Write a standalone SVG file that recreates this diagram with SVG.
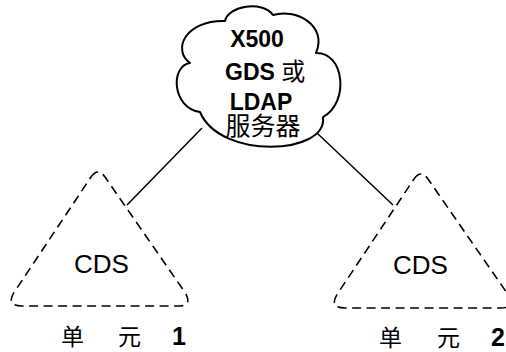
<svg xmlns="http://www.w3.org/2000/svg" width="506" height="352" viewBox="0 0 506 352">
  <defs>
    <style>
      .bg { fill: #ffffff; }
      .cloud { fill: #ffffff; stroke: #000000; stroke-width: 2; stroke-linejoin: round; }
      .cell { fill: none; stroke: #000000; stroke-width: 1.6; stroke-dasharray: 9 5.5; }
      .link { stroke: #000000; stroke-width: 1.5; fill: none; }
      .lat { font-family: "Liberation Sans", Arial, "Noto Sans CJK SC", sans-serif; font-weight: bold; fill: #000000; }
      .cjk { font-family: "Noto Sans CJK SC", "Liberation Sans", sans-serif; font-weight: normal; fill: #000000; }
      .cds { font-family: "Liberation Sans", Arial, sans-serif; font-size: 26px; fill: #000000; text-anchor: middle; }
    </style>
    <!-- rounded, dashed triangle used for both cells -->
    <path id="cellShape" d="M 91,177 Q 98,167 105,177 L 184,291 Q 194,306 178,306 L 22,306 Q 5,306 15,291 Z"/>
  </defs>

  <rect class="bg" x="0" y="0" width="506" height="352"/>

  <!-- connectors between the directory server and the cells -->
  <g id="connectors">
    <line class="link" x1="202" y1="128" x2="127" y2="205"/>
    <line class="link" x1="317" y1="133" x2="393" y2="205"/>
  </g>

  <!-- directory server cloud -->
  <g id="directory">
    <path class="cloud" d="M 190,63
      C 172,50 185,20 225,21
      C 228,6 262,0 273,15
      C 295,8 328,25 316,53
      C 344,52 350,102 323,117
      C 328,155 220,160 200,112
      C 172,108 170,66 190,63 Z"/>
    <text class="lat" x="257" y="47" font-size="23" text-anchor="middle">X500</text>
    <text class="lat" x="225" y="80" font-size="23">GDS <tspan class="cjk" font-size="24">或</tspan></text>
    <text class="lat" x="261" y="110" font-size="23" text-anchor="middle">LDAP</text>
    <text class="cjk" x="263" y="135" font-size="25" text-anchor="middle">服务器</text>
  </g>

  <!-- cell 1 -->
  <g id="cell1">
    <use href="#cellShape" class="cell"/>
    <text class="cds" x="101.5" y="273">CDS</text>
    <text class="cjk" y="345" font-size="23"><tspan x="61">单</tspan><tspan x="118">元</tspan><tspan class="lat" x="172" font-size="25">1</tspan></text>
  </g>

  <!-- cell 2 -->
  <g id="cell2">
    <use href="#cellShape" class="cell" transform="translate(323,2)"/>
    <text class="cds" x="420.5" y="274">CDS</text>
    <text class="cjk" y="346" font-size="23"><tspan x="379">单</tspan><tspan x="437">元</tspan><tspan class="lat" x="491" font-size="25">2</tspan></text>
  </g>
</svg>
